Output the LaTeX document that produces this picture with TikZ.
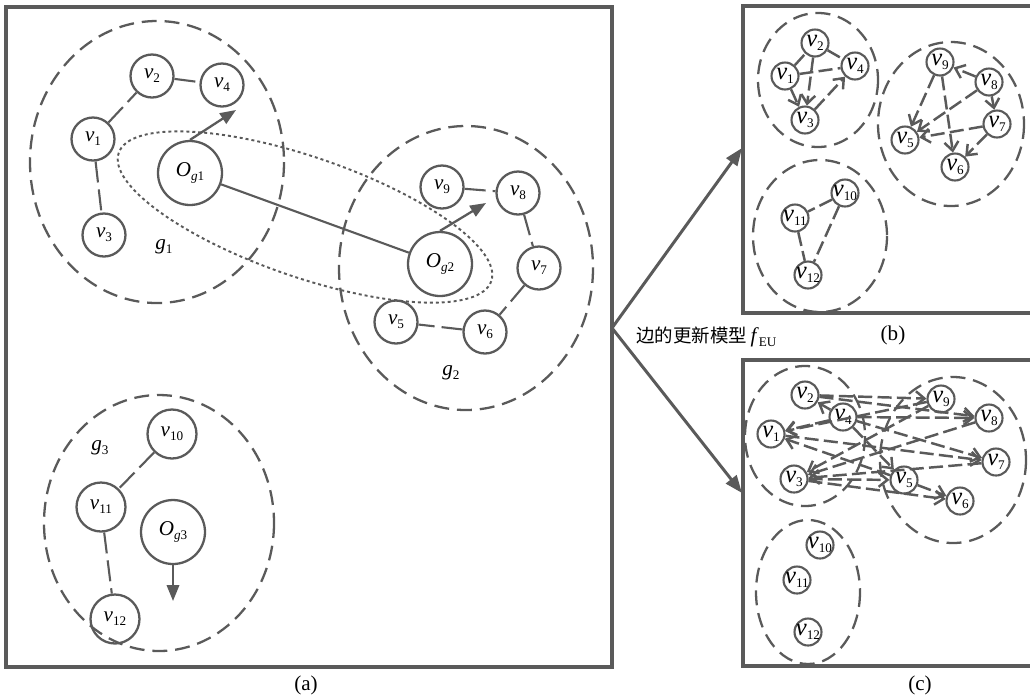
\documentclass[tikz,border=0pt]{standalone}
\usepackage{fontspec}
\setmainfont{Liberation Serif}
\newfontfamily\cjk{Noto Sans CJK SC}
\usetikzlibrary{arrows.meta,positioning}
\definecolor{ink}{RGB}{90,90,90}
\newcommand{\subs}[1]{\raisebox{-0.4ex}{\fontsize{7.5}{8}\selectfont #1}}
\newcommand{\vlab}[1]{\textit{v}\subs{#1}}
\newcommand{\vsm}[1]{\makebox[0pt]{\textit{v}\subs{#1}}}
\newcommand{\olab}[1]{\textit{O}\subs{\textit{g}#1}}
\newcommand{\glab}[1]{\textit{g}\subs{#1}}
\begin{document}
\begin{tikzpicture}[x=0.02cm,y=-0.02cm,
	vert/.style={circle,draw=ink,line width=1.3pt,minimum size=0.86cm,inner sep=0pt,font=\fontsize{12}{14}\selectfont},
	bigv/.style={vert,minimum size=0.98cm},
	cen/.style={vert,minimum size=1.28cm},
	sm/.style={circle,draw=ink,line width=1.2pt,minimum size=0.54cm,inner sep=0pt,font=\fontsize{14}{16}\selectfont},
	grp/.style={draw=ink,line width=1.3pt,dash pattern=on 8.5pt off 4.5pt},
	brk/.style={draw=ink,line width=1.2pt,dash pattern=on 12pt off 4pt},
	ln/.style={draw=ink,line width=1.4pt,dash pattern=on 8pt off 3pt},
	lnk/.style={ln,-{Straight Barb[length=5pt,width=8pt]}},
	frm/.style={draw=ink,line width=1.8pt},
	ptr/.style={draw=ink,line width=1.3pt,-{Triangle[length=9pt,width=7pt]}},
	txt/.style={font=\fontsize{12}{14}\selectfont,inner sep=0pt}]
	\useasboundingbox (0,0) rectangle (1030,698);
	% panel (a)
	\draw[frm] (6,7) rectangle (612,667);
	\node[txt] (la) at (306,685) {(a)};
	\draw[grp] (157,162) ellipse [x radius=127,y radius=141];
	\draw[grp] (466,268) ellipse [x radius=127,y radius=142];
	\draw[grp] (159,523) ellipse [x radius=115,y radius=128];
	\draw[ink,line width=1.1pt,dash pattern=on 1.7pt off 1.7pt,rotate around={-19:(305,217)}] (305,217) ellipse [x radius=197,y radius=60];
	\node[vert] (a1) at (93,139) {\vlab{1}};
	\node[vert] (a2) at (152,76) {\vlab{2}};
	\node[vert] (a3) at (104,235) {\vlab{3}};
	\node[vert] (a4) at (222,85) {\vlab{4}};
	\node[vert] (a5) at (396,322) {\vlab{5}};
	\node[vert] (a6) at (485,332) {\vlab{6}};
	\node[vert] (a7) at (539,268) {\vlab{7}};
	\node[vert] (a8) at (518,193) {\vlab{8}};
	\node[vert] (a9) at (442,187) {\vlab{9}};
	\node[bigv] (a10) at (172,434) {\vlab{10}};
	\node[bigv] (a11) at (101,507) {\vlab{11}};
	\node[bigv] (a12) at (115,619) {\vlab{12}};
	\node[cen] (o1) at (190,173) {\olab{1}};
	\node[cen] (o2) at (440,264) {\olab{2}};
	\node[cen] (o3) at (173,532) {\olab{3}};
	\node[txt] (g1) at (164,247) {\glab{1}};
	\node[txt] (g2) at (451,373) {\glab{2}};
	\node[txt] (g3) at (100,448) {\glab{3}};
	\foreach \s/\t in {a1/a2,a2/a4,a1/a3,a9/a8,a8/a7,a7/a6,a6/a5,a10/a11,a11/a12}
		\draw[brk] (\s) -- (\t);
	\draw[ink,line width=1.2pt] (o1) -- (o2);
	\coordinate (t1) at (236,110);
	\coordinate (t2) at (486,203);
	\coordinate (t3) at (173,601);
	\draw[ptr] (o1.north) -- (t1);
	\draw[ptr] (o2.north) -- (t2);
	\draw[ptr] (o3.south) -- (t3);
	% update model
	\coordinate (fork) at (612,328);
	\coordinate (tb) at (742,148);
	\coordinate (tc) at (742,493);
	\draw[draw=ink,line width=1.7pt,-{Triangle[length=10pt,width=7.5pt]}] (fork) -- (tb);
	\draw[draw=ink,line width=1.7pt,-{Triangle[length=10pt,width=7.5pt]}] (fork) -- (tc);
	\node[inner sep=0pt,right=0.48cm of fork,yshift=-0.18cm,font=\fontsize{12}{14}\selectfont] (feu) {{\cjk\fontsize{10.5}{12}\selectfont 边的更新模型}\,\textit{f}\subs{EU}};
	% panel (b)
	\draw[frm] (1032,6) -- (743,6) -- (743,313) -- (1032,313);
	\node[txt] (lb) at (893,335) {(b)};
	\draw[grp] (818,80) ellipse [x radius=60,y radius=67];
	\draw[grp] (951,124) ellipse [x radius=73,y radius=82];
	\draw[grp] (820,236) ellipse [x radius=67,y radius=76];
	\node[sm] (b1) at (785,76) {\vsm{1}};
	\node[sm] (b2) at (815,43) {\vsm{2}};
	\node[sm] (b3) at (805,120) {\vsm{3}};
	\node[sm] (b4) at (855,66) {\vsm{4}};
	\node[sm] (b5) at (905,140) {\vsm{5}};
	\node[sm] (b6) at (955,167) {\vsm{6}};
	\node[sm] (b7) at (997,124) {\vsm{7}};
	\node[sm] (b8) at (989,82) {\vsm{8}};
	\node[sm] (b9) at (940,62) {\vsm{9}};
	\node[sm] (b10) at (845,193) {\vsm{10}};
	\node[sm] (b11) at (795,218) {\vsm{11}};
	\node[sm] (b12) at (808,275) {\vsm{12}};
	\foreach \s/\t in {b1/b2,b2/b4,b1/b4,b10/b11,b10/b12,b11/b12}
		\draw[ln] (\s) -- (\t);
	\foreach \s/\t in {b1/b3,b2/b3,b3/b4,b8/b9,b9/b5,b8/b5,b7/b5,b9/b6,b7/b6,b8/b7}
		\draw[lnk] (\s) -- (\t);
	% panel (c)
	\draw[frm] (1032,360) -- (743,360) -- (743,666) -- (1032,666);
	\node[txt] (lc) at (920,685) {(c)};
	\draw[grp] (805,436) ellipse [x radius=60,y radius=70];
	\draw[grp] (953,460) ellipse [x radius=73,y radius=83];
	\draw[grp] (808,592) ellipse [x radius=52,y radius=72];
	\node[sm] (c1) at (771,434) {\vsm{1}};
	\node[sm] (c2) at (805,395) {\vsm{2}};
	\node[sm] (c3) at (794,479) {\vsm{3}};
	\node[sm] (c4) at (843,417) {\vsm{4}};
	\node[sm] (c5) at (904,480) {\vsm{5}};
	\node[sm] (c6) at (960,501) {\vsm{6}};
	\node[sm] (c7) at (996,462) {\vsm{7}};
	\node[sm] (c8) at (989,418) {\vsm{8}};
	\node[sm] (c9) at (941,399) {\vsm{9}};
	\node[sm] (c10) at (820,545) {\vsm{10}};
	\node[sm] (c11) at (797,580) {\vsm{11}};
	\node[sm] (c12) at (808,632) {\vsm{12}};
	\foreach \s/\t in {c4/c2,c9/c1,c5/c1,c7/c3,c8/c3,c3/c5,c4/c5,c4/c8,c2/c9,c1/c7,c4/c7,c5/c6,c3/c6,c2/c8,c4/c1,c9/c3}
		\draw[lnk] (\s) -- (\t);
\end{tikzpicture}
\end{document}
